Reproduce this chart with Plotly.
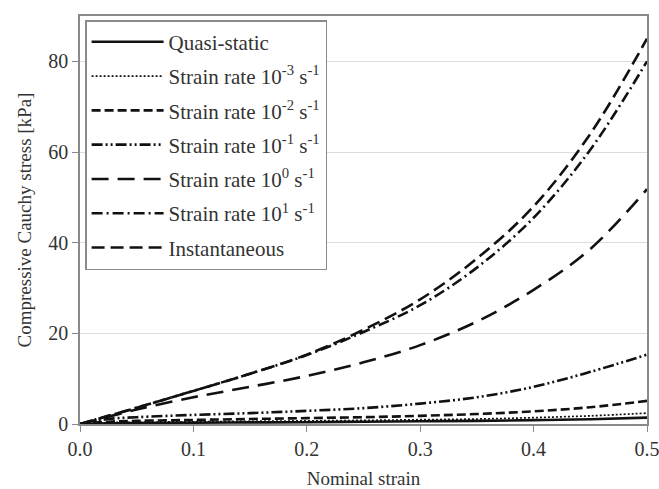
import plotly.graph_objects as go

# Data
strain = [0.0, 0.025, 0.05, 0.1, 0.15, 0.2, 0.25, 0.3, 0.35, 0.4, 0.45, 0.5]

quasi_static = [0.0, 0.15, 0.2, 0.3, 0.35, 0.4, 0.5, 0.6, 0.7, 0.85, 1.05, 1.4]
rate_1e_3 = [0.0, 0.3, 0.4, 0.5, 0.6, 0.7, 0.8, 0.95, 1.1, 1.4, 1.8, 2.4]
rate_1e_2 = [0.0, 0.5, 0.7, 0.9, 1.1, 1.3, 1.5, 1.8, 2.2, 2.8, 3.7, 5.1]
rate_1e_1 = [0.0, 1.1, 1.5, 2.0, 2.4, 2.9, 3.5, 4.5, 5.9, 8.2, 11.5, 15.3]
rate_1e0 = [0.0, 1.6, 3.2, 5.9, 8.2, 10.6, 13.6, 17.4, 22.6, 29.6, 38.6, 51.8]
rate_1e1 = [0.0, 1.8, 3.6, 7.3, 11.1, 15.2, 20.3, 26.2, 34.5, 45.5, 60.5, 80.0]
instantaneous = [0.0, 1.8, 3.6, 7.3, 11.1, 15.3, 20.8, 27.5, 36.5, 48.0, 64.0, 85.0]

names = [
    "Quasi-static",
    "Strain rate 10<sup>-3</sup> s<sup>-1</sup>",
    "Strain rate 10<sup>-2</sup> s<sup>-1</sup>",
    "Strain rate 10<sup>-1</sup> s<sup>-1</sup>",
    "Strain rate 10<sup>0</sup> s<sup>-1</sup>",
    "Strain rate 10<sup>1</sup> s<sup>-1</sup>",
    "Instantaneous",
]
series = [quasi_static, rate_1e_3, rate_1e_2, rate_1e_1, rate_1e0, rate_1e1, instantaneous]
dashes = [
    "solid",
    "2px,2px",
    "9px,4px",
    "11px,3px,2px,3px,2px,3px",
    "17px,9px",
    "11px,4px,2px,4px",
    "13px,6px",
]
widths = [2.6, 1.7, 2.6, 2.6, 2.6, 2.6, 2.6]

fig = go.Figure()
for i, (nm, ys, d, w) in enumerate(zip(names, series, dashes, widths)):
    fig.add_trace(go.Scatter(
        x=strain, y=ys, mode="lines", name=nm, legendgroup=f"g{i}",
        line=dict(color="#111111", width=w, dash=d, shape="spline", smoothing=1.0),
    ))

font_family = "Liberation Serif, Times New Roman, serif"
txt = "#333333"
fig.update_layout(
    width=659, height=489,
    margin=dict(l=80, r=12, t=16, b=65),
    paper_bgcolor="white", plot_bgcolor="white",
    font=dict(family=font_family, size=19, color=txt),
    showlegend=True,
    legend=dict(
        x=0.009, y=0.99, xanchor="left", yanchor="top",
        bgcolor="white", bordercolor="#8a8a8a", borderwidth=1.5,
        font=dict(family=font_family, size=21, color=txt),
        tracegroupgap=4, itemwidth=72,
    ),
    xaxis=dict(
        range=[0, 0.5], tickvals=[0, 0.1, 0.2, 0.3, 0.4, 0.5],
        ticktext=["0.0", "0.1", "0.2", "0.3", "0.4", "0.5"],
        tickfont=dict(family=font_family, size=20, color=txt),
        ticklabeloverflow="allow",
        showgrid=False, zeroline=False, automargin=False,
        showline=True, linecolor="#8a8a8a", linewidth=1.5, mirror=True,
        ticks="outside", ticklen=6, tickcolor="#8a8a8a", tickwidth=1.2,
        title=dict(text="Nominal strain", standoff=22,
                   font=dict(family=font_family, size=19, color=txt)),
    ),
    yaxis=dict(
        range=[0, 90], tickvals=[0, 20, 40, 60, 80],
        tickfont=dict(family=font_family, size=20, color=txt),
        ticklabeloverflow="allow",
        showgrid=True, gridcolor="#dcdcdc", gridwidth=1.2, zeroline=False,
        automargin=False,
        showline=True, linecolor="#8a8a8a", linewidth=1.5, mirror=True,
        ticks="outside", ticklen=6, tickcolor="#8a8a8a", tickwidth=1.2,
        title=dict(text="Compressive Cauchy stress [kPa]", standoff=12,
                   font=dict(family=font_family, size=19, color=txt)),
    ),
)

fig.write_html("out.html")
